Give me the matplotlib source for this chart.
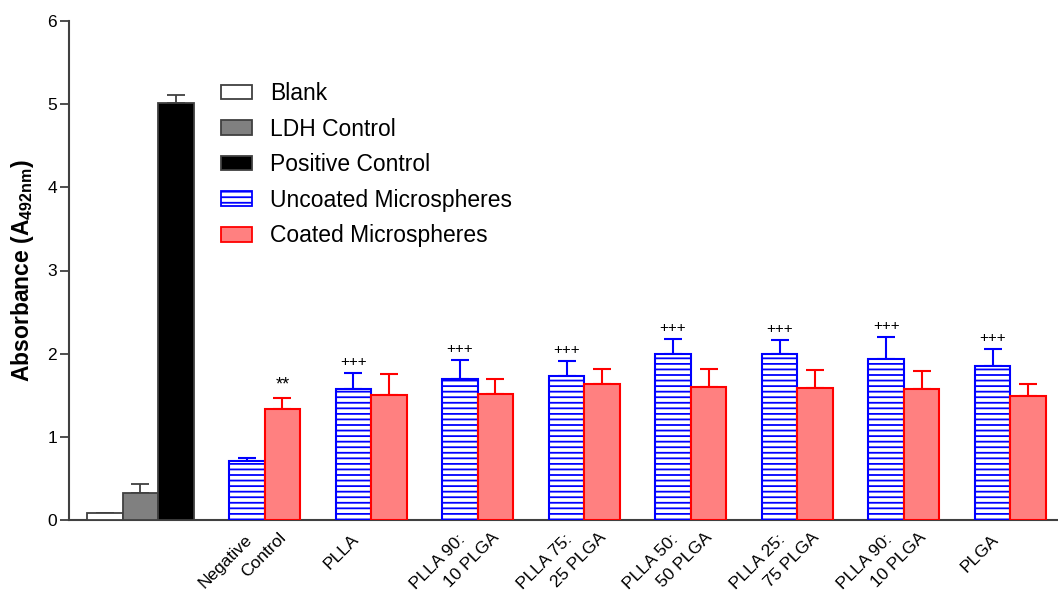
import numpy as np
import matplotlib
matplotlib.use("Agg")
import matplotlib.pyplot as plt
from matplotlib.patches import Patch
from matplotlib.transforms import blended_transform_factory, offset_copy

plt.rcParams['font.family'] = ['Liberation Sans', 'DejaVu Sans']
plt.rcParams['mathtext.fontset'] = 'custom'
plt.rcParams['mathtext.bf'] = 'Liberation Sans:bold'
plt.rcParams['mathtext.rm'] = 'Liberation Sans'
plt.rcParams['hatch.linewidth'] = 1.3

# ---- data ----
control_labels = ["Blank", "LDH Control", "Positive Control"]
control_values = [0.08, 0.33, 5.01]
control_errors = [0.01, 0.10, 0.10]
control_colors = ["white", "#808080", "black"]

group_line1 = ["Negative", "PLLA", "PLLA 90:", "PLLA 75:", "PLLA 50:", "PLLA 25:", "PLLA 90:", "PLGA"]
group_line2 = ["Control", "", "10 PLGA", "25 PLGA", "50 PLGA", "75 PLGA", "10 PLGA", ""]
uncoated = [0.71, 1.58, 1.70, 1.73, 2.00, 1.99, 1.94, 1.85]
uncoated_err = [0.04, 0.19, 0.22, 0.18, 0.18, 0.17, 0.26, 0.21]
coated = [1.33, 1.50, 1.52, 1.63, 1.60, 1.59, 1.58, 1.49]
coated_err = [0.14, 0.25, 0.17, 0.19, 0.21, 0.21, 0.21, 0.15]
uncoated_marks = ["", "+++", "+++", "+++", "+++", "+++", "+++", "+++"]
coated_marks = ["**", "", "", "", "", "", "", ""]

# ---- figure ----
fig = plt.figure(figsize=(10.58, 5.94), dpi=100)
ax = fig.add_axes([69/1058, 74/594, 989/1058, 499/594])

spine_c = "#404040"
xc = np.arange(len(control_values))
ax.bar(xc, control_values, width=1.0, color=control_colors, edgecolor=spine_c,
       linewidth=1.3, zorder=3)
ax.errorbar(xc, control_values, yerr=[np.zeros(len(xc)), control_errors], fmt='none',
            ecolor=spine_c, elinewidth=1.3, capsize=6.5, capthick=1.3, zorder=2)

xb = 4 + 3*np.arange(len(group_line1))
xr = xb + 1
ax.bar(xb, uncoated, width=1.0, color="white", edgecolor="blue", hatch="---",
       linewidth=1.5, zorder=3)
ax.bar(xr, coated, width=1.0, color="#FF8080", edgecolor="red",
       linewidth=1.5, zorder=3)
ax.errorbar(xb, uncoated, yerr=[np.zeros(len(xb)), uncoated_err], fmt='none',
            ecolor="blue", elinewidth=1.5, capsize=6.5, capthick=1.5, zorder=2)
ax.errorbar(xr, coated, yerr=[np.zeros(len(xr)), coated_err], fmt='none',
            ecolor="red", elinewidth=1.5, capsize=6.5, capthick=1.5, zorder=2)

for x, v, e, m in zip(xb, uncoated, uncoated_err, uncoated_marks):
    if m:
        ax.annotate(m, (x, v + e), xytext=(0, 3), textcoords='offset points',
                    ha='center', va='bottom', fontsize=11)
for x, v, e, m in zip(xr, coated, coated_err, coated_marks):
    if m:
        ax.annotate(m, (x, v + e), xytext=(0, 3), textcoords='offset points',
                    ha='center', va='bottom', fontsize=13)

ax.set_xlim(-1.01, 26.84)
ax.set_ylim(0, 6)
ax.set_yticks(range(0, 7))
ax.tick_params(axis='y', labelsize=12.5, length=6.5, width=1.3, color=spine_c, pad=2)
ax.set_xticks(xb + 0.5)
ax.set_xticklabels([])
ax.tick_params(axis='x', length=0)

# rotated two-line group labels (Prism style, second line shifted)
trans = blended_transform_factory(ax.transData, ax.transAxes)
t1 = offset_copy(trans, fig=fig, x=-20, y=-12, units='dots')
t2 = offset_copy(trans, fig=fig, x=14, y=-10, units='dots')
for xcen, l1, l2 in zip(xb + 0.5, group_line1, group_line2):
    ax.text(xcen, 0, l1, transform=t1, rotation=45, rotation_mode='anchor',
            ha='right', va='top', fontsize=12.5)
    if l2:
        ax.text(xcen, 0, l2, transform=t2, rotation=45, rotation_mode='anchor',
                ha='right', va='top', fontsize=12.5)

for s in ['top', 'right']:
    ax.spines[s].set_visible(False)
for s in ['left', 'bottom']:
    ax.spines[s].set_color(spine_c)
    ax.spines[s].set_linewidth(1.5)

ax.set_ylabel(r"Absorbance (A$_{\mathbf{492nm}}$)", fontsize=16.5, fontweight='bold', labelpad=8)

handles = [Patch(facecolor="white", edgecolor=spine_c, linewidth=1.3),
           Patch(facecolor="#808080", edgecolor=spine_c, linewidth=1.3),
           Patch(facecolor="black", edgecolor=spine_c, linewidth=1.3),
           Patch(facecolor="white", edgecolor="blue", hatch="---", linewidth=1.3),
           Patch(facecolor="#FF8080", edgecolor="red", linewidth=1.3)]
labels = control_labels + ["Uncoated Microspheres", "Coated Microspheres"]
fig.legend(handles, labels, loc='upper left', bbox_to_anchor=(221/1058, 1 - 82/594),
           frameon=False, fontsize=16.5, handlelength=1.35, handleheight=0.6,
           handletextpad=0.8, labelspacing=0.55, borderpad=0, borderaxespad=0)

fig.savefig("out.png", dpi=100)
